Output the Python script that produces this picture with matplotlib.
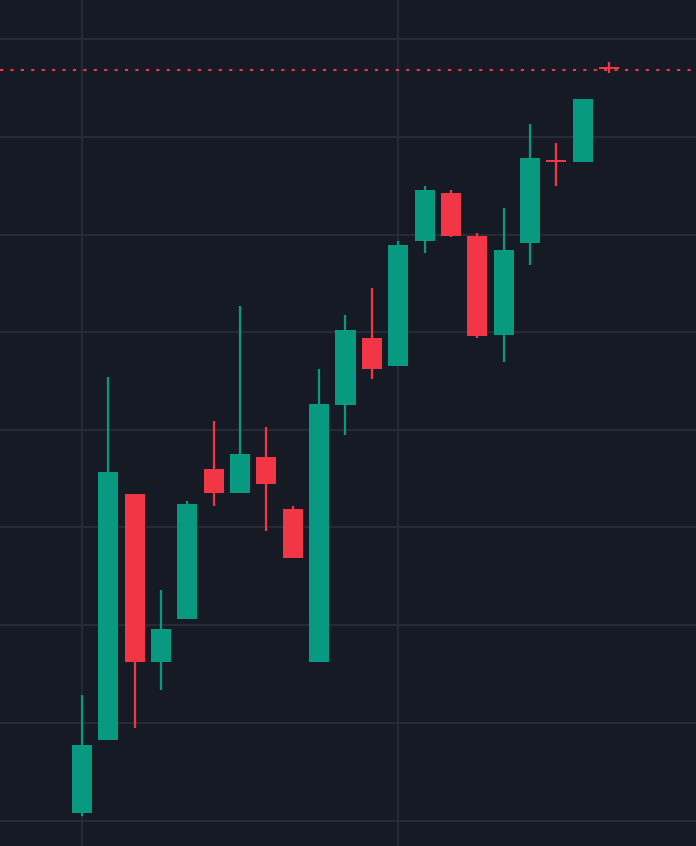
import matplotlib
matplotlib.use("Agg")
import matplotlib.pyplot as plt
import numpy as np

opens  = [3.3,10.6,35.2,18.4,22.7,37.7,35.3,38.9,33.7,18.4,44.1,50.8,48.0,60.5,65.3,61.0,51.1,60.3,68.6,68.4,77.9]
highs  = [15.1,46.9,35.2,25.6,34.5,42.5,54.0,41.9,34.0,47.7,53.1,55.8,60.5,66.0,65.6,61.3,63.8,72.2,70.3,74.7,78.4]
lows   = [3.0,10.6,11.8,15.6,22.7,34.0,35.3,31.5,28.8,18.4,41.1,46.7,48.0,59.3,60.9,50.8,48.4,58.1,66.0,68.4,77.3]
closes = [10.1,37.4,18.4,21.7,34.2,35.3,39.2,36.2,28.8,44.2,51.6,47.7,60.1,65.6,61.0,51.0,59.6,68.8,68.4,74.7,77.7]
last_price = 77.6
grid_y = [80.7,70.9,61.1,51.4,41.6,31.9,22.1,12.3,2.5]
grid_x = [0,12]

BG="#161a25"; GRID="#262a35"; UP="#089981"; DOWN="#f23645"
fig = plt.figure(figsize=(6.96,8.46), dpi=100, facecolor=BG)
ax = fig.add_axes([0,0,1,1], facecolor=BG)
for y in grid_y: ax.axhline(y, color=GRID, lw=1.6, zorder=0)
for x in grid_x: ax.axvline(x, color=GRID, lw=1.6, zorder=0)
w = 0.76
for i,(o,h,l,c) in enumerate(zip(opens,highs,lows,closes)):
    col = UP if c>=o else DOWN
    ax.vlines(i, l, h, color=col, lw=1.6, zorder=2)
    bot, ht = min(o,c), abs(c-o)
    ax.bar(i, max(ht,0.2), bottom=bot if ht>=0.2 else (o+c)/2-0.1, width=w, color=col, zorder=3)
ax.axhline(last_price, color=DOWN, lw=1.5, ls=(0,(1.5,3.5)), zorder=1)
ax.set_xlim(-3.11, 23.3)
ax.set_ylim(0, 84.6)
ax.axis("off")
fig.savefig("out.png", dpi=100, facecolor=BG)
